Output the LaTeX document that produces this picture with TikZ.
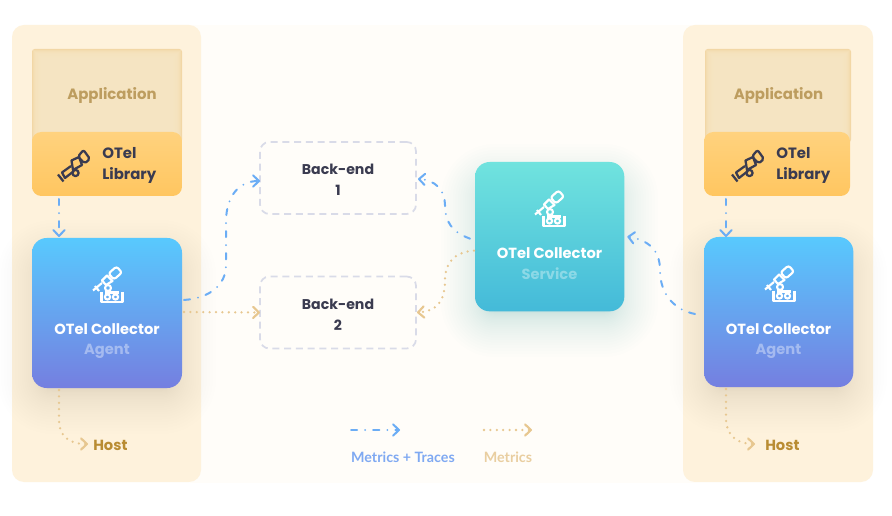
\documentclass[tikz,border=0pt]{standalone}
\usepackage{fontspec}
\setmainfont{Poppins}
\newfontfamily\labfont{Poppins}
\newfontfamily\legfont{Lato}
\usetikzlibrary{arrows.meta,calc}
\definecolor{page}{HTML}{FFFDF9}
\definecolor{panel}{HTML}{FEF2DC}
\definecolor{appedge}{HTML}{F2D7A6}
\definecolor{appfill}{HTML}{F7E6C4}
\definecolor{blueline}{HTML}{6BADF5}
\definecolor{orgline}{HTML}{E7C790}
\definecolor{legorg}{HTML}{E9CEA0}
\definecolor{inkdark}{HTML}{3A3B50}
\definecolor{apptext}{HTML}{BD9D5F}
\definecolor{hosttext}{HTML}{B98C32}
\definecolor{dashbox}{HTML}{D9DBE8}
\definecolor{legblue}{HTML}{7FA9F2}
\definecolor{libtop}{HTML}{FFD27E}
\definecolor{libbot}{HTML}{FFC660}
\definecolor{agtop}{HTML}{58C9FE}
\definecolor{agbot}{HTML}{757FE0}
\definecolor{svtop}{HTML}{70E3DE}
\definecolor{svbot}{HTML}{44BAD9}
\definecolor{shadeblue}{HTML}{5A5A80}
\definecolor{shadeteal}{HTML}{45BBCB}
\tikzset{
  x=0.75pt,y=-0.75pt,
  boxbase/.style={rectangle,inner sep=0pt,outer sep=0pt,draw=none},
  appbox/.style={boxbase,fill=appedge,rounded corners=2pt,minimum width=112.5pt,minimum height=70pt},
  libbox/.style={boxbase,rounded corners=7pt,minimum width=112.5pt,minimum height=48pt,top color=libtop,bottom color=libbot},
  agentbox/.style={boxbase,rounded corners=11pt,minimum width=112.5pt,minimum height=112.5pt,shading angle=-22,top color=agtop,bottom color=agbot},
  servicebox/.style={boxbase,rounded corners=11pt,minimum width=112pt,minimum height=112pt,shading angle=14,top color=svtop,bottom color=svbot},
  backbox/.style={boxbase,draw=dashbox,line width=1.3pt,dash pattern=on 5.2pt off 3.6pt,rounded corners=7pt,minimum width=117pt,minimum height=54pt,align=center,font=\labfont\fontsize{10.6}{15.5}\selectfont\bfseries,text=inkdark,text depth=0pt},
  libtext/.style={align=left,font=\labfont\fontsize{11.2}{15.5}\selectfont\bfseries,text=inkdark,inner sep=0pt},
  apptxt/.style={font=\labfont\fontsize{11.2}{12}\selectfont\bfseries,text=apptext,inner sep=0pt},
  coltext/.style={font=\labfont\fontsize{11}{12}\selectfont\bfseries,text=white,inner sep=0pt},
  subagent/.style={font=\labfont\fontsize{11}{12}\selectfont\bfseries,text=white,text opacity=0.38,inner sep=0pt},
  subservice/.style={font=\labfont\fontsize{11}{12}\selectfont\bfseries,text=white,text opacity=0.35,inner sep=0pt},
  hosttxt/.style={font=\labfont\fontsize{11}{12}\selectfont\bfseries,text=hosttext,inner sep=0pt},
  legtxt/.style={font=\legfont\fontsize{10.7}{12}\selectfont\bfseries,inner sep=0pt},
  mtline/.style={draw=blueline,line width=1.5pt,line cap=round,dash pattern=on 4.6pt off 6pt on 0pt off 6pt,
     -{Straight Barb[length=4.4pt,width=8.4pt,line width=1.5pt,round]}},
  mline/.style={draw=orgline,line width=1.9pt,line cap=round,dash pattern=on 0pt off 4.8pt,
     -{Straight Barb[length=4.4pt,width=8.4pt,line width=1.6pt,round]}},
  telescope/.pic={
    \begin{scope}[draw=inkdark,line width=1.7pt,line join=round]
      \draw[rounded corners=1.5pt] (4,-8.5) -- (9.5,-15) -- (16,-6) -- (10.5,-1.5) -- cycle;
      \draw (-2.5,-4.5) -- (5,-8) -- (8,0) -- (-1,5) -- cycle;
      \draw (-3,1) -- (-12,7.5) -- (-9,13) -- (0,6);
      \draw (-16,9.5) -- (-10.5,16.5);
      \draw (1.5,8) circle[radius=3.1];
    \end{scope}},
  microscope/.pic={
    \begin{scope}[draw=white,line width=1.6pt,line join=round]
      \draw[rounded corners=1.8pt] (0.5,-11.5) -- (8.5,-18.5) -- (14,-12.5) -- (6,-5.5) -- cycle;
      \draw (-1,-9.5) -- (4.5,-4) -- (-2,0) -- (-6,-4.5) -- cycle;
      \draw (-15,5.5) -- (-6,-2);
      \draw (-13,1) -- (-9,6);
      \draw (0,3) circle[radius=3];
      \draw (-6.5,7) -- (-6.5,17) -- (14.5,17) -- (14.5,7);
      \draw (-3,7.5) -- (11,7.5);
      \draw (-0.5,12) circle[radius=2.6];
      \draw (7.5,12) circle[radius=2.6];
    \end{scope}}
}
% shadow: x1 y1 x2 y2 colour opacity
\newcommand{\softshade}[6]{%
  \foreach \k in {0,...,29}{%
    \pgfmathsetmacro{\ee}{46*(1-\k/29)*(1-\k/29)-4}%
    \pgfmathsetmacro{\rr}{9+\ee*0.75}%
    \fill[#5,opacity=#6,rounded corners=\rr pt] ({#1-\ee},{#2-\ee}) rectangle ({#3+\ee},{#4+\ee});
  }}
% inner glow of an application box
\newcommand{\appinset}[1]{%
  \foreach \k in {1,...,8}{%
    \fill[appfill,opacity=0.35] ($(#1.north west)+(\k*1.1,\k*1.1)$) rectangle ($(#1.south east)+(-\k*1.1,0)$);
  }}
\begin{document}
\begin{tikzpicture}
\useasboundingbox (0,0) rectangle (892,516);
\fill[white] (0,0) rectangle (892,516);
\fill[page] (190,25) rectangle (695,483);
\fill[panel,rounded corners=9pt] (12,25) rectangle (201,482);
\fill[panel,rounded corners=9pt] (683,25) rectangle (873,482);
% soft shadows
\softshade{40}{262}{174}{392}{shadeblue}{0.004}
\softshade{712}{261}{845}{391}{shadeblue}{0.004}
\softshade{483}{186}{616}{315}{shadeteal}{0.006}
% application boxes
\node[appbox,anchor=north west] (appL) at (32,49) {};
\appinset{appL}
\node[apptxt] (appLt) at (112,95.5) {Application};
\node[appbox,anchor=north west,minimum width=109.5pt] (appR) at (705,49) {};
\appinset{appR}
\node[apptxt] (appRt) at (778.5,95.5) {Application};
% library boxes
\node[libbox,anchor=north west] (libL) at (32,132) {};
\pic at (74,165) {telescope};
\node[libtext,anchor=west] (libLt) at (102,165.5) {OTel\\Library};
\node[libbox,anchor=north west,minimum width=109.5pt] (libR) at (704,132) {};
\pic at (748,165) {telescope};
\node[libtext,anchor=west] (libRt) at (776,165.5) {OTel\\Library};
% agents
\node[agentbox,anchor=north west] (agentL) at (32,238) {};
\pic at (108,285) {microscope};
\node[coltext] (agentLt) at (107,329) {OTel Collector};
\node[subagent] (agentLs) at (107,351) {Agent};
\node[agentbox,anchor=north west,minimum width=112pt] (agentR) at (704,237) {};
\pic at (780,284) {microscope};
\node[coltext] (agentRt) at (778.5,329) {OTel Collector};
\node[subagent] (agentRs) at (778.5,351) {Agent};
% service
\node[servicebox,anchor=north west] (service) at (475,162) {};
\pic at (550,209) {microscope};
\node[coltext] (servicet) at (549.5,253) {OTel Collector};
\node[subservice] (services) at (549.5,273.5) {Service};
% back-ends
\node[backbox] (be1) at (338,178) {\rule{0pt}{11pt}Back-end\\1};
\node[backbox] (be2) at (338,312.5) {\rule{0pt}{11pt}Back-end\\2};
% host labels
\node[hosttxt,anchor=west] (hostL) at (93,445) {Host};
\node[hosttxt,anchor=west] (hostR) at (765,445) {Host};
% connectors
\draw[mtline] ($(libL.south west)+(27,3)$) -- ($(agentL.north west)+(27,-1)$);
\draw[mtline] ($(libR.south west)+(22,3)$) -- ($(agentR.north west)+(22,0)$);
\draw[mline] ($(agentL.south west)+(27,2)$) -- ++(0,30) .. controls ++(0,16) and ($(hostL.west)+(-24,-1)$) .. ($(hostL.west)+(-5,-1)$);
\draw[mline] ($(agentR.south west)+(22,2)$) -- ++(0,30) .. controls ++(0,16) and ($(hostR.west)+(-28,-1)$) .. ($(hostR.west)+(-10,-1)$);
\draw[mline] ($(agentL.east)+(2,-1)$) -- (be2.west);
\draw[mtline] ($(agentL.east)+(2,-13)$) .. controls ++(26,-2) and (226,285) .. (226,265) -- (226,222) .. controls (226,195) and (240,181) .. ($(be1.west)+(0,3)$);
\draw[mtline] ($(service.west)+(-5,2)$) .. controls (452,232) and (445,222) .. (445,205) .. controls (445,190) and (435,180) .. ($(be1.east)+(2,1)$);
\draw[mline] ($(service.west)+(-1,14)$) .. controls (455,252) and (445,262) .. (445,280) .. controls (445,300) and (438,311) .. ($(be2.east)+(1,0)$);
\draw[mtline] ($(agentR.west)+(-9,2)$) .. controls (675,310) and (660,295) .. (660,270) .. controls (660,250) and (648,240) .. ($(service.east)+(3,0)$);
% legend
\node[legtxt,text=legblue] (legA) at (403,457) {Metrics + Traces};
\node[legtxt,text=legorg] (legB) at (508,457) {Metrics};
\coordinate (la1) at ($(legA)+(-52,-27)$);
\coordinate (la2) at ($(legA)+(-3,-27)$);
\coordinate (lb1) at ($(legB)+(-24,-27)$);
\coordinate (lb2) at ($(legB)+(24,-27)$);
\draw[mtline] (la1) -- (la2);
\draw[mline] (lb1) -- (lb2);
\end{tikzpicture}
\end{document}
